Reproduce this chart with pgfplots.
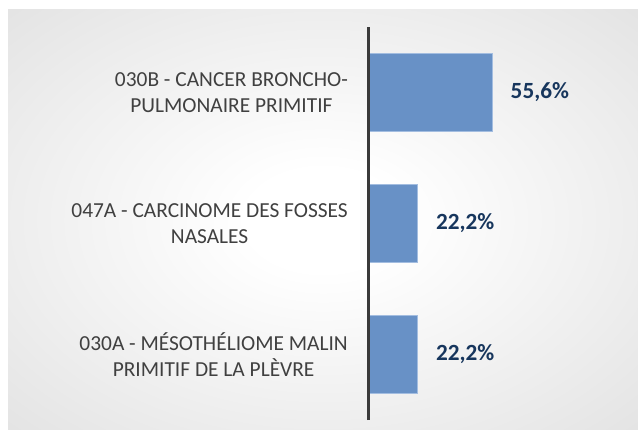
\documentclass[border=0pt]{standalone}
\usepackage{pgfplots}
\pgfplotsset{compat=1.18}
\usepackage{fontspec}
\setmainfont{Carlito}
\definecolor{barblue}{HTML}{6891C6}
\definecolor{baredge}{HTML}{A3BDE0}
\definecolor{labgray}{HTML}{404040}
\definecolor{valnavy}{HTML}{17365D}
\definecolor{axisgray}{HTML}{3A3A3A}
\pgfdeclareradialshading{bg}{\pgfpoint{0bp}{0bp}}{color(0bp)=(white); color(6bp)=(white); color(50bp)=(black!16); color(71bp)=(black!26)}
\begin{document}
\begin{tikzpicture}[x=1bp,y=1bp]
\useasboundingbox (0bp,0bp) rectangle (638bp,430bp);
\fill[white] (0bp,0bp) rectangle (638bp,430bp);
\shade[shading=bg] (8bp,0bp) rectangle (638bp,420bp);
\begin{axis}[
  at={(368bp,10bp)}, anchor=south west, scale only axis,
  width=246bp, height=393bp,
  xmin=0, xmax=110, ymin=-0.5, ymax=2.5,
  xbar, bar width=78bp,
  axis x line=none,
  axis y line*=left,
  y axis line style={line width=3bp, draw=axisgray},
  axis on top,
  ytick={0,1,2},
  yticklabels={{030A - MÉSOTHÉLIOME MALIN\\PRIMITIF DE LA PLÈVRE},{047A - CARCINOME DES FOSSES\\NASALES},{030B - CANCER BRONCHO-\\PULMONAIRE PRIMITIF}},
  major tick length=0pt,
  yticklabel style={align=center, inner sep=0pt, xshift=-20bp, font=\fontsize{21.4bp}{25.5bp}\selectfont, text=labgray},
  point meta=x,
  /pgf/number format/.cd, assume math mode=true, use comma, fixed, fixed zerofill, precision=1,
  /pgfplots/.cd,
  nodes near coords={\pgfmathprintnumber{\pgfplotspointmeta}\%},
  nodes near coords style={anchor=west, inner sep=0pt, xshift=18bp, font=\bfseries\fontsize{23.2bp}{27bp}\selectfont, text=valnavy},
]
\addplot[fill=barblue, draw=baredge, line width=0.8bp] coordinates {(22.2,0) (22.2,1) (55.6,2)};
\end{axis}
\end{tikzpicture}
\end{document}
